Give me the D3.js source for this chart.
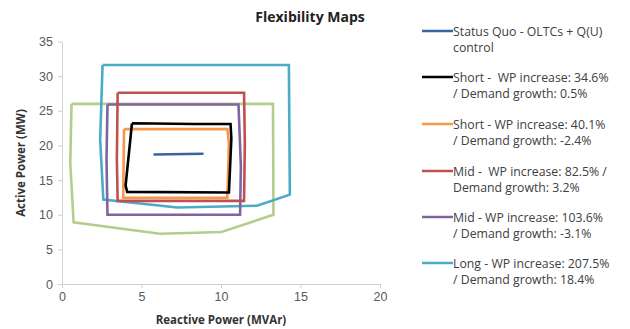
<!DOCTYPE html>
<html><head><meta charset="utf-8">
<script src="https://cdn.jsdelivr.net/npm/d3@7"></script>
<style>body{margin:0;background:#fff}svg{font-family:"Open Sans","Liberation Sans",sans-serif}text{white-space:pre}</style>
</head><body><svg id="c" width="630" height="329"></svg>
<script>
const seriesNames = [
  ["Status Quo - OLTCs + Q(U)", "control"],
  ["Short -  WP increase: 34.6%", "/ Demand growth: 0.5%"],
  ["Short - WP increase: 40.1%", "/ Demand growth: -2.4%"],
  ["Mid -  WP increase: 82.5% /", "Demand growth: 3.2%"],
  ["Mid - WP increase: 103.6%", "/ Demand growth: -3.1%"],
  ["Long - WP increase: 207.5%", "/ Demand growth: 18.4%"]
];
const colors = ["#3a64a0", "#000000", "#f7974a", "#c0504d", "#8064a2", "#4bacc6", "#b5cd8c"];
const statusQuo = [[5.75,18.7],[8.9,18.8]];
const shortA = [[4.4,23.2],[8.25,23.1],[10.6,23.1],[10.65,21],[10.5,13.2],[4.1,13.3],[4.0,14.2],[4.4,23.2]];
const shortB = [[3.9,22.35],[10.4,22.35],[10.5,20.3],[10.4,12.45],[3.85,12.45],[3.9,22.35]];
const midA = [[3.5,27.6],[11.45,27.6],[11.5,20.3],[11.45,12.0],[3.5,12.0],[3.45,18],[3.5,27.6]];
const midB = [[2.86,25.9],[11.1,25.9],[11.25,17],[11.2,10.0],[2.86,10.0],[2.8,18],[2.86,25.9]];
const longS = [[2.55,31.6],[14.27,31.6],[14.33,12.9],[12.27,11.3],[7.25,11.05],[2.6,12.2],[2.4,20.8],[2.55,31.6]];
const greenS = [[0.6,26.0],[13.27,26.0],[13.3,10.0],[10.03,7.5],[6.16,7.26],[0.73,8.9],[0.52,17.45],[0.6,26.0]];
const xTicks = [0,5,10,15,20];
const yTicks = [0,5,10,15,20,25,30,35];

const svg = d3.select("#c");
const x = d3.scaleLinear().domain([0,20]).range([62,380]);
const y = d3.scaleLinear().domain([0,35]).range([284,41.5]);

const xa = svg.append("g").attr("transform","translate(0,284)")
  .call(d3.axisBottom(x).tickValues(xTicks).tickSize(4).tickSizeOuter(0).tickPadding(4));
const ya = svg.append("g").attr("transform","translate(62,0)")
  .call(d3.axisLeft(y).tickValues(yTicks).tickSize(4).tickSizeOuter(0).tickPadding(5));
[xa,ya].forEach(a=>{
  a.selectAll("path,line").attr("stroke","#d0d0d0");
  a.selectAll("text").attr("fill","#595959").style("font-size","12.5px");
});

const line = d3.line().x(d=>x(d[0])).y(d=>y(d[1]));
const allSeries = [greenS, longS, midB, midA, shortB, shortA, statusQuo];
const allColors = [colors[6], colors[5], colors[4], colors[3], colors[2], colors[1], colors[0]];
svg.append("g").selectAll("path").data(allSeries).join("path")
  .attr("d", line).attr("fill","none")
  .attr("stroke",(d,i)=>allColors[i]).attr("stroke-width",2.6).attr("stroke-linejoin","miter");

svg.append("text").attr("x",310).attr("y",22).attr("text-anchor","middle")
  .attr("font-weight","bold").style("font-size","14px").attr("fill","#222").text("Flexibility Maps");
svg.append("text").attr("x",221).attr("y",324).attr("text-anchor","middle")
  .attr("font-weight","bold").style("font-size","11.5px").attr("fill","#333").text("Reactive Power (MVAr)");
svg.append("text").attr("transform","translate(25,163) rotate(-90)").attr("text-anchor","middle")
  .attr("font-weight","bold").style("font-size","11.5px").attr("fill","#333").text("Active Power (MW)");

const legY = [31, 77, 124, 171, 217, 263];
const lg = svg.append("g").selectAll("g").data(seriesNames).join("g")
  .attr("transform",(d,i)=>`translate(422,${legY[i]})`);
lg.append("line").attr("x1",0).attr("x2",31).attr("y1",0).attr("y2",0)
  .attr("stroke",(d,i)=>colors[i]).attr("stroke-width",2.5);
lg.append("text").attr("x",31).attr("y",4.5).style("font-size","12.3px").attr("fill","#404040").text(d=>d[0]);
lg.append("text").attr("x",31).attr("y",20.5).style("font-size","12.3px").attr("fill","#404040").text(d=>d[1]);
</script></body></html>
